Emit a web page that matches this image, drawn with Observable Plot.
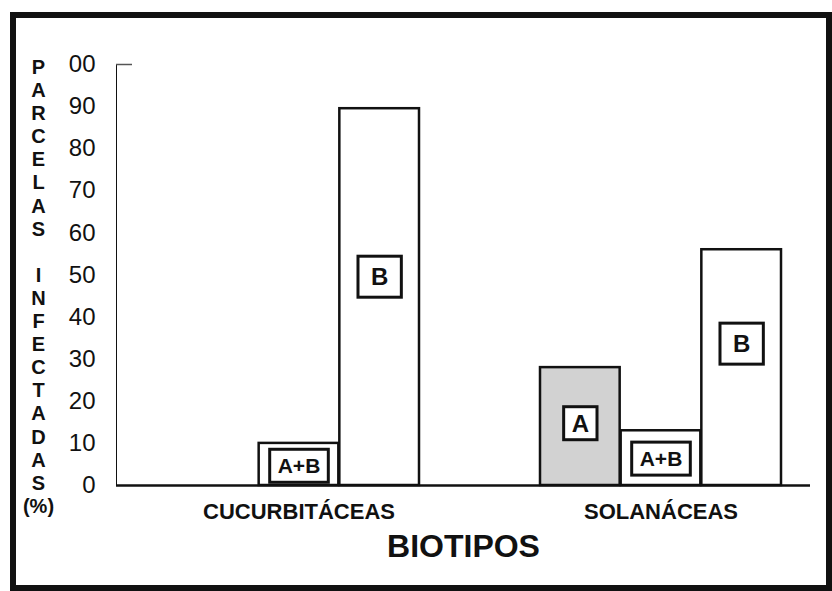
<!DOCTYPE html>
<html><head><meta charset="utf-8">
<script src="https://cdn.jsdelivr.net/npm/d3@7"></script>
<script src="https://cdn.jsdelivr.net/npm/@observablehq/plot@0.6"></script>
<style>
html,body{margin:0;padding:0;background:#fff;}
#wrap{position:relative;width:832px;height:591px;overflow:hidden;background:#fff;}
#chart{position:absolute;left:0;top:0;}
#border{position:absolute;left:10px;top:12px;width:822px;height:579px;box-sizing:border-box;border:6px solid #111;pointer-events:none;}
g[aria-label="y-axis tick label"] text{font-size:24px;}
g[aria-label="x-axis tick label"] text{font-size:22px;font-weight:bold;}
g[aria-label="frame"], g[aria-label="y-axis line"], g[aria-label="y-axis line"] *{stroke-width:2px;stroke:#333;}
</style></head>
<body><div id="wrap"><div id="chart"></div><div id="border"></div></div>
<script>
// ---- data ----
const biotipos = ["CUCURBITÁCEAS", "SOLANÁCEAS"];
const tipos = ["A", "A+B", "B"];
const cucurbitaceas = [0, 10, 89.5];
const solanaceas = [28, 13, 56];
// where each boxed label sits (in % units)
const cucurbitaceasLabelY = [null, 4.5, 49.4];
const solanaceasLabelY = [14.6, 6.2, 33.5];
const yTicks = [0, 10, 20, 30, 40, 50, 60, 70, 80, 90, 100];
const yTickLabels = ["0", "10", "20", "30", "40", "50", "60", "70", "80", "90", "00"];
const yLabelWords = ["PARCELAS", "INFECTADAS", "(%)"];
const xLabel = "BIOTIPOS";

const values = [cucurbitaceas, solanaceas];
const labelYs = [cucurbitaceasLabelY, solanaceasLabelY];
const rows = biotipos.flatMap((b, i) => tipos.map((t, j) => ({
  biotipo: b, tipo: t, value: values[i][j], labelY: labelYs[i][j]
})));

const yLabelText = [...yLabelWords[0].split(""), "\u00a0", ...yLabelWords[1].split(""), yLabelWords[2]].join("\n");

// ---- styles ----
const FONT = '"Liberation Sans", Arial, Helvetica, sans-serif';
const bandW = 242;
const third = bandW / 3;
const insets = {"A": [0, 2 * third], "A+B": [third, third], "B": [2 * third, 0]};
const offsets = {"A": -third, "A+B": 0, "B": third};
const fills = {"A": "#d2d2d2", "A+B": "#ffffff", "B": "#ffffff"};

const marks = [];
for (const t of tipos) {
  marks.push(Plot.barY(rows.filter(d => d.tipo === t && d.value > 0), {
    x: "biotipo", y: "value", fill: fills[t], stroke: "#111", strokeWidth: 2.5,
    insetLeft: insets[t][0], insetRight: insets[t][1]
  }));
}
marks.push(Plot.ruleY([0], {stroke: "#111", strokeWidth: 2.5}));
marks.push(Plot.ruleY([100], {stroke: "#555", strokeWidth: 1.5, insetRight: 694 - 16}));
for (const t of tipos) {
  marks.push(Plot.text(rows.filter(d => d.tipo === t && d.labelY != null), {
    x: "biotipo", y: "labelY", text: "tipo", dx: offsets[t],
    fontSize: t === "A+B" ? 21 : 24, fontWeight: "bold", fill: "#111"
  }));
}
marks.push(Plot.text([yLabelText], {
  text: d => d, frameAnchor: "top-left", dx: -78, dy: -7, lineAnchor: "top",
  textAnchor: "middle", lineHeight: 1.155, fontSize: 20, fontWeight: "bold", fill: "#111"
}));
marks.push(Plot.text([xLabel], {
  text: d => d, frameAnchor: "bottom", lineAnchor: "middle", dy: 61,
  fontSize: 32, fontWeight: "bold", fill: "#111"
}));

const plot = Plot.plot({
  width: 832, height: 591,
  marginLeft: 116, marginRight: 22, marginTop: 64, marginBottom: 106,
  style: {fontFamily: FONT, background: "transparent", color: "#111"},
  x: {domain: biotipos, paddingInner: 1 / 3, paddingOuter: 0.1226, align: 0.68,
      tickSize: 0, tickPadding: 18, label: null},
  y: {domain: [0, 100], ticks: yTicks, tickFormat: d => yTickLabels[yTicks.indexOf(d)],
      tickSize: 0, tickPadding: 21, line: true, label: null},
  marks
});
document.getElementById("chart").append(plot);

// boxes around the bar labels
const NS = "http://www.w3.org/2000/svg";
plot.querySelectorAll('g[aria-label="text"] text').forEach(t => {
  const s = t.textContent;
  if (!tipos.includes(s)) return;
  const b = t.getBBox();
  const px = s === "B" ? 13 : 8;
  const py = s === "B" ? 7 : s === "A" ? 3 : 5;
  const r = document.createElementNS(NS, "rect");
  r.setAttribute("x", b.x - px);
  r.setAttribute("y", b.y - py);
  r.setAttribute("width", b.width + 2 * px);
  r.setAttribute("height", b.height + 2 * py);
  if (t.getAttribute("transform")) r.setAttribute("transform", t.getAttribute("transform"));
  r.setAttribute("fill", "#fff");
  r.setAttribute("stroke", "#111");
  r.setAttribute("stroke-width", 3);
  t.parentNode.insertBefore(r, t);
});
</script>
</body></html>
